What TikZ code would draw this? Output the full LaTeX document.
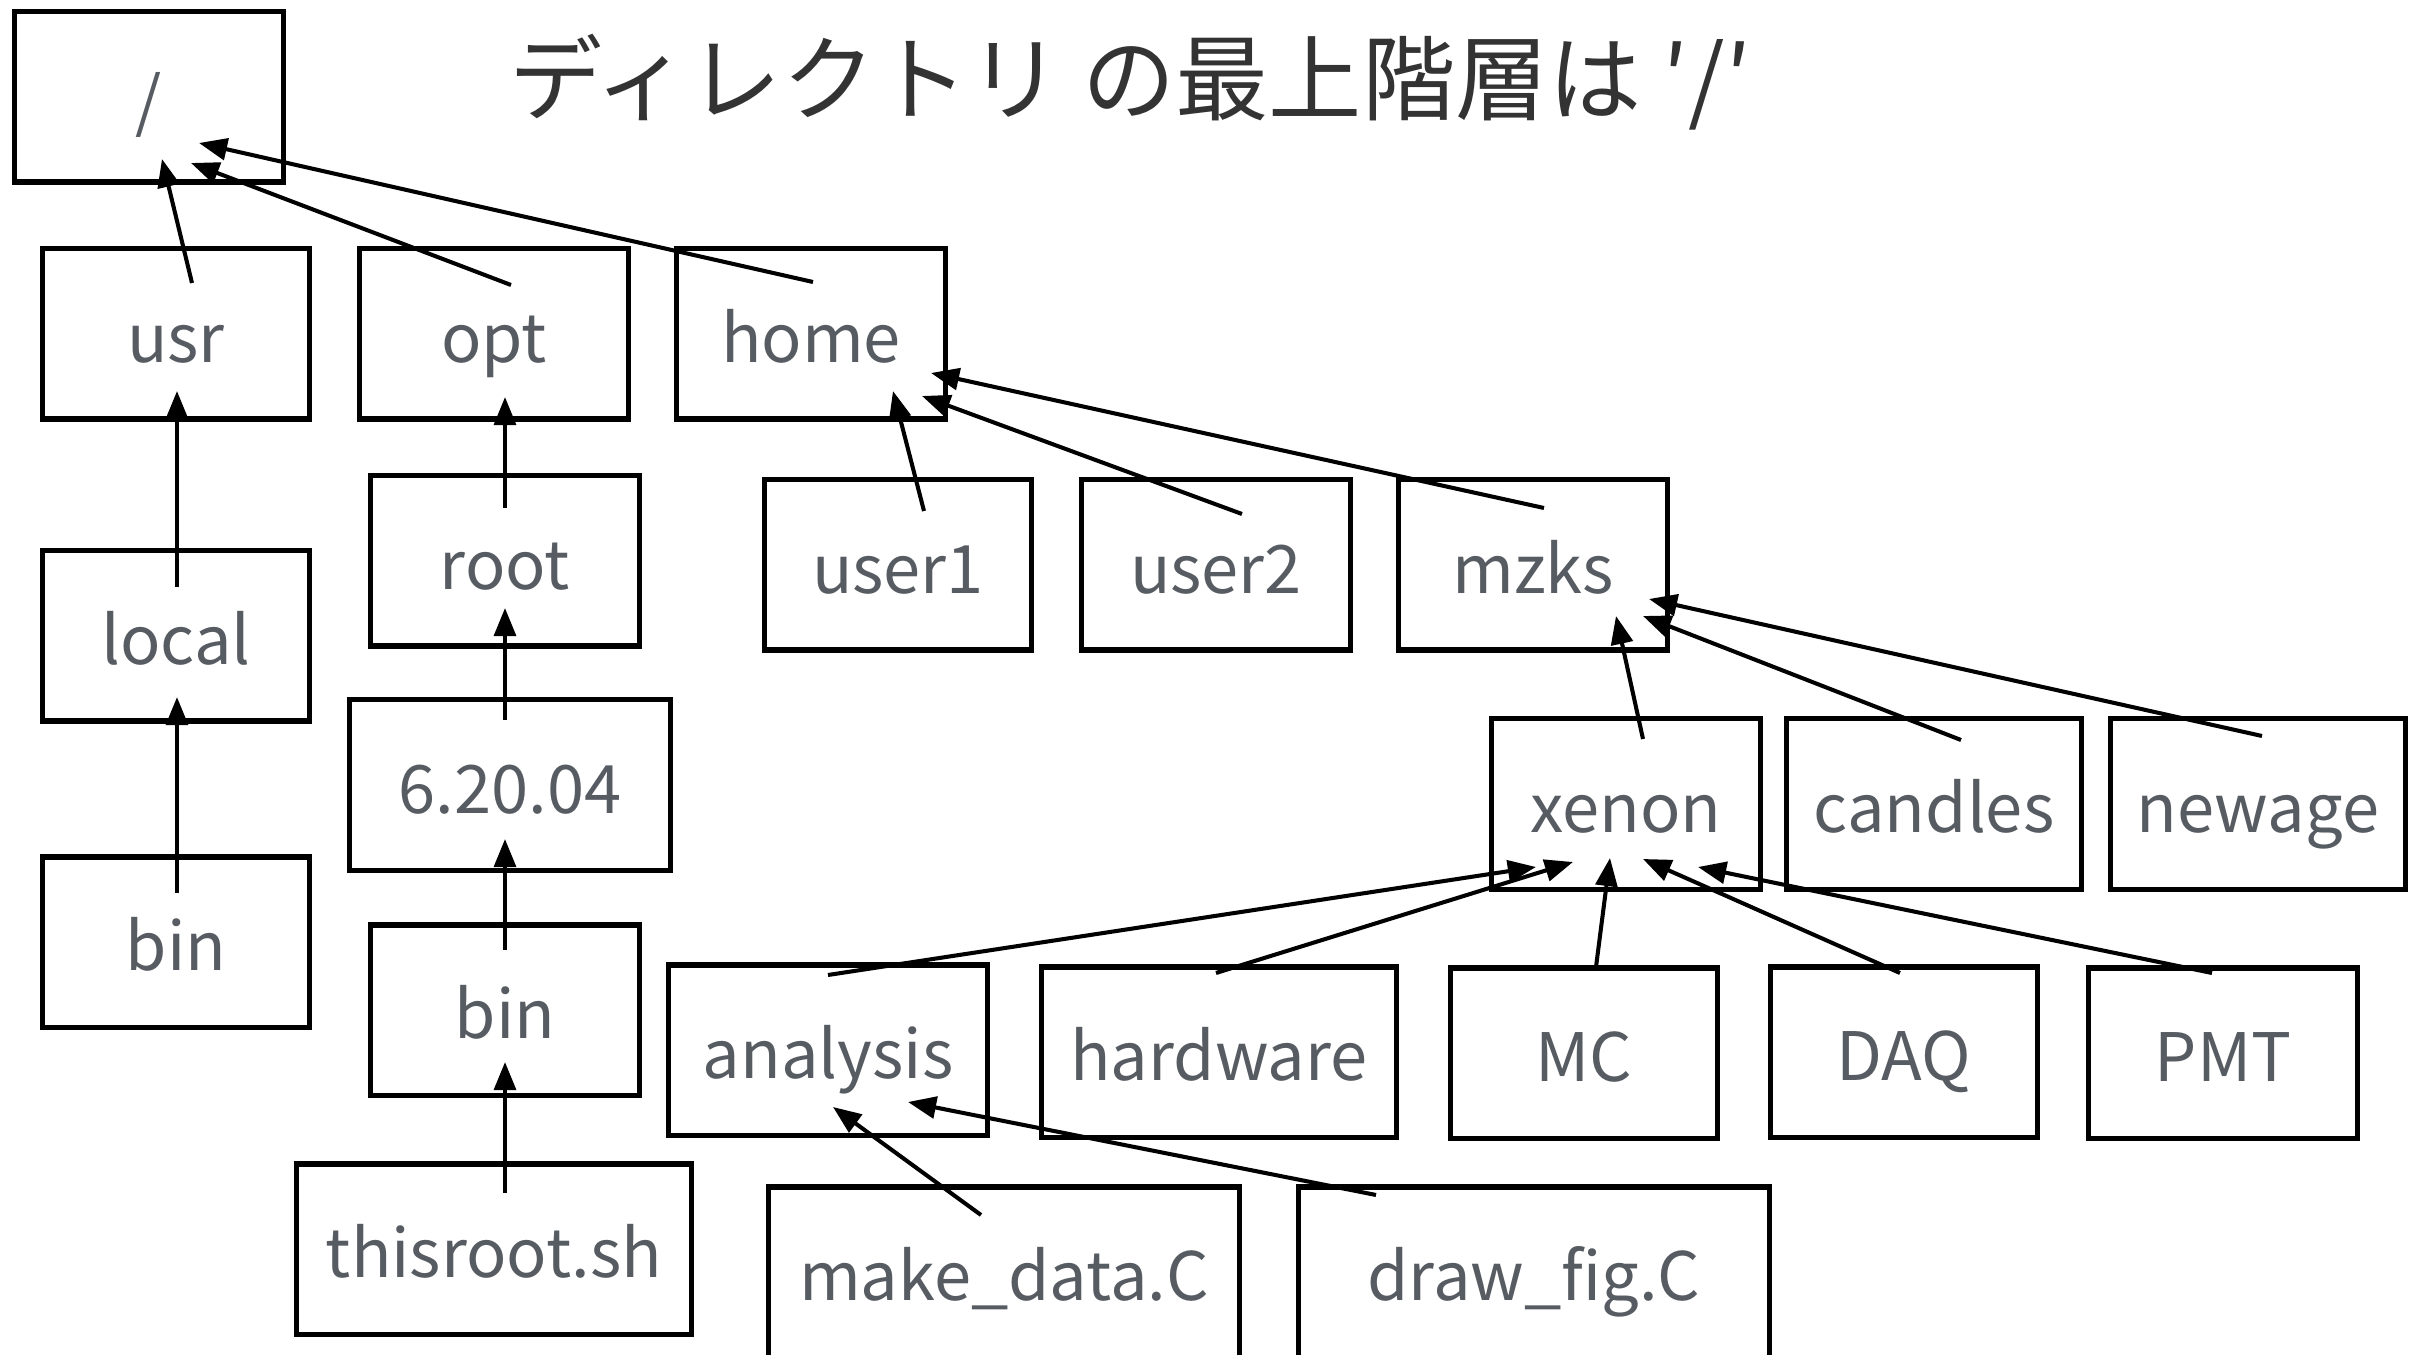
\documentclass[tikz,border=0pt]{standalone}
\usepackage{fontspec}
\setmainfont{Noto Sans CJK JP}
\usetikzlibrary{arrows.meta,calc}
\definecolor{labelgray}{RGB}{87,92,99}
\definecolor{titlegray}{RGB}{51,51,51}
\tikzset{
  dirbox/.style={draw=black, line width=1.45pt, inner sep=0pt, text=labelgray,
    font=\fontsize{19pt}{23pt}\selectfont, minimum height=1.70cm,
    text height=16pt, text depth=0pt},
  arr/.style={line width=1.15pt, -{Triangle[length=8pt,width=6.2pt]}},
}
\begin{document}
\begin{tikzpicture}[x=0.01cm,y=-0.01cm]
\useasboundingbox (0,0) rectangle (2414,1355);
\begin{scope}
\clip (0,0) rectangle (2414,1355);
% title
\node[text=titlegray, font=\fontsize{26.5pt}{30pt}\selectfont, anchor=center] (title) at (1130,82) {ディレクトリ の最上階層は \char"2032/\char"2032};
% nodes
\node[dirbox, minimum width=2.68cm] (rt) at (149,97) {/};
\node[dirbox, minimum width=2.66cm] (usr) at (176,334) {usr};
\node[dirbox, minimum width=2.68cm] (opt) at (494,334) {opt};
\node[dirbox, minimum width=2.68cm] (home) at (811,334) {home};
\node[dirbox, minimum width=2.66cm] (local) at (176,636) {local};
\node[dirbox, minimum width=2.68cm] (root) at (505,561) {root};
\node[dirbox, minimum width=2.66cm] (user1) at (898,565) {user1};
\node[dirbox, minimum width=2.68cm] (user2) at (1216,565) {user2};
\node[dirbox, minimum width=2.68cm] (mzks) at (1533,565) {mzks};
\node[dirbox, minimum width=3.21cm] (ver) at (510,785) {6.20.04};
\node[dirbox, minimum width=2.68cm] (xenon) at (1626,804) {xenon};
\node[dirbox, minimum width=2.94cm] (candles) at (1934,804) {candles};
\node[dirbox, minimum width=2.94cm] (newage) at (2258,804) {newage};
\node[dirbox, minimum width=2.66cm] (binL) at (176,942) {bin};
\node[dirbox, minimum width=2.68cm] (binM) at (505,1010) {bin};
\node[dirbox, minimum width=3.19cm] (analysis) at (828,1050) {analysis};
\node[dirbox, minimum width=3.55cm] (hardware) at (1219,1052) {hardware};
\node[dirbox, minimum width=2.67cm] (mc) at (1584,1053) {MC};
\node[dirbox, minimum width=2.67cm] (daq) at (1904,1052) {DAQ};
\node[dirbox, minimum width=2.68cm] (pmt) at (2223,1053) {PMT};
\node[dirbox, minimum width=3.94cm] (thisroot) at (494,1249) {thisroot.sh};
\node[dirbox, minimum width=4.71cm] (makedata) at (1004,1272) {make\_data.C};
\node[dirbox, minimum width=4.71cm] (drawfig) at (1534,1272) {draw\_fig.C};
% connectors
\draw[arr] ($(usr)+(16,-51)$) -- ($(rt)+(13,62)$);
\draw[arr] ($(opt)+(17,-49)$) -- ($(rt)+(42,66)$);
\draw[arr] ($(home)+(2,-52)$) -- ($(rt)+(50,46)$);
\draw[arr] ($(local)+(1,-49)$) -- ($(usr)+(1,57)$);
\draw[arr] ($(binL)+(1,-49)$) -- ($(local)+(1,61)$);
\draw[arr] ($(root)+(0,-53)$) -- ($(opt)+(11,63)$);
\draw[arr] ($(ver)+(-5,-65)$) -- ($(root)+(0,47)$);
\draw[arr] ($(binM)+(0,-60)$) -- ($(ver)+(-5,54)$);
\draw[arr] ($(thisroot)+(11,-56)$) -- ($(binM)+(0,52)$);
\draw[arr] ($(user1)+(26,-54)$) -- ($(home)+(82,57)$);
\draw[arr] ($(user2)+(26,-51)$) -- ($(home)+(111,62)$);
\draw[arr] ($(mzks)+(11,-57)$) -- ($(home)+(120,39)$);
\draw[arr] ($(xenon)+(17,-65)$) -- ($(mzks)+(83,51)$);
\draw[arr] ($(candles)+(27,-64)$) -- ($(mzks)+(110,51)$);
\draw[arr] ($(newage)+(4,-68)$) -- ($(mzks)+(116,34)$);
\draw[arr] ($(analysis)+(0,-75)$) -- ($(xenon)+(-90,63)$);
\draw[arr] ($(hardware)+(-3,-79)$) -- ($(xenon)+(-53,58)$);
\draw[arr] ($(mc)+(12,-86)$) -- ($(xenon)+(-16,54)$);
\draw[arr] ($(daq)+(-4,-79)$) -- ($(xenon)+(17,55)$);
\draw[arr] ($(pmt)+(-11,-80)$) -- ($(xenon)+(72,63)$);
\draw[arr] ($(makedata)+(-23,-57)$) -- ($(analysis)+(5,57)$);
\draw[arr] ($(drawfig)+(-158,-77)$) -- ($(analysis)+(80,52)$);
\end{scope}
\end{tikzpicture}
\end{document}
